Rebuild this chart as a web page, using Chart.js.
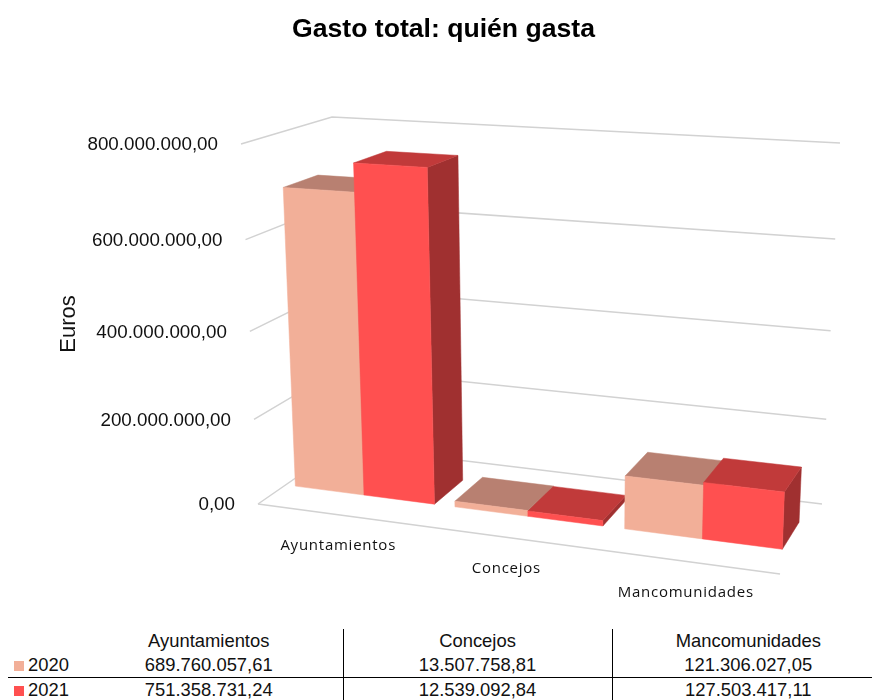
<!DOCTYPE html>
<html>
<head>
<meta charset="utf-8">
<script src="https://cdn.jsdelivr.net/npm/chart.js@4"></script>
<style>
html, body { margin: 0; padding: 0; background: #fff; overflow: hidden; }
#wrap { position: relative; width: 872px; height: 700px; overflow: hidden; }
canvas { position: absolute; left: 0; top: 0; }
table { position: absolute; left: 8px; top: 629px; width: 876px; border-collapse: collapse; table-layout: fixed;
  font: 18.4px "Liberation Sans", Arial, sans-serif; color: #111; }
td { padding: 0; text-align: center; white-space: nowrap; }
td.val { border-left: 1.4px solid #000; }
td.first { border-left: 0; }
tr.h td { height: 24px; }
tr.a td { height: 24px; }
tr.b td { height: 23px; border-top: 1.4px solid #000; }
td.key { text-align: left; }
td.key i { display: inline-block; width: 10px; height: 10px; margin: 0 4px 0 6px; }
</style>
</head>
<body>
<div id="wrap">
  <canvas id="myChart" width="872" height="625"></canvas>
  <table id="dataTable"></table>
</div>
<script>
var categories = ["Ayuntamientos", "Concejos", "Mancomunidades"];
var series_names = ["2020", "2021"];
var values_2020 = [689760057.61, 13507758.81, 121306027.05];
var values_2021 = [751358731.24, 12539092.84, 127503417.11];
var tick_step = 200000000;
var axis_max = 800000000;

var front_colors = ["#F2AF98", "#FF5050"];
var top_colors = ["#B88071", "#C13A3A"];
var side_colors = ["#A8806F", "#A03030"];

// corners of the 3d box on the picture
var floor_corners = [[258, 504], [780, 574], [822, 504], [342, 446]];
var roof_corners = [[241, 144], [793, 176], [840, 143], [332, 117]];
var bar_front = 0.31, bar_back = 0.7;
var height_bend = 0.085;

function quad_map(q) {
    var dx1 = q[1][0] - q[2][0], dx2 = q[3][0] - q[2][0], sx = q[0][0] - q[1][0] + q[2][0] - q[3][0];
    var dy1 = q[1][1] - q[2][1], dy2 = q[3][1] - q[2][1], sy = q[0][1] - q[1][1] + q[2][1] - q[3][1];
    var det = dx1 * dy2 - dx2 * dy1;
    var g = (sx * dy2 - dx2 * sy) / det, h = (dx1 * sy - sx * dy1) / det;
    var a = q[1][0] - q[0][0] + g * q[1][0], b = q[3][0] - q[0][0] + h * q[3][0];
    var d = q[1][1] - q[0][1] + g * q[1][1], e = q[3][1] - q[0][1] + h * q[3][1];
    return function (u, w) {
        var m = g * u + h * w + 1;
        return [(a * u + b * w + q[0][0]) / m, (d * u + e * w + q[0][1]) / m];
    };
}
var floor_at = quad_map(floor_corners);
var roof_at = quad_map(roof_corners);

function project(u, v, w) {
    var t = v / (1 + height_bend * (1 - v));
    var p = floor_at(u, w), r = roof_at(u, w);
    return [p[0] + (r[0] - p[0]) * t, p[1] + (r[1] - p[1]) * t];
}

function path(ctx, pts) {
    ctx.beginPath();
    pts.forEach(function (p, i) {
        if (i == 0) ctx.moveTo(p[0], p[1]); else ctx.lineTo(p[0], p[1]);
    });
}

function face(ctx, pts, color) {
    path(ctx, pts);
    ctx.closePath();
    ctx.fillStyle = color;
    ctx.fill();
    ctx.strokeStyle = color;
    ctx.lineWidth = 0.5;
    ctx.stroke();
}

function format_number(n) {
    return n.toFixed(2).replace(".", ",").replace(/\B(?=(\d{3})+(?!\d))/g, ".");
}

var box3d = {
    id: "box3d",
    beforeDatasetsDraw: function (chart) {
        var ctx = chart.ctx, y = chart.scales.y, x = chart.scales.x;
        ctx.save();
        ctx.strokeStyle = "#d2d2d2";
        ctx.lineWidth = 1.5;
        y.ticks.forEach(function (tick) {
            var v = (y.bottom - y.getPixelForValue(tick.value)) / (y.bottom - y.top);
            path(ctx, [project(0, v, 0), project(0, v, 1), project(1, v, 1)]);
            ctx.stroke();
        });
        path(ctx, [project(0, 0, 0), project(1, 0, 0)]);
        ctx.stroke();

        ctx.fillStyle = "#111";
        ctx.font = '18.8px "Liberation Sans"';
        ctx.textAlign = "right";
        ctx.textBaseline = "middle";
        y.ticks.forEach(function (tick) {
            var v = (y.bottom - y.getPixelForValue(tick.value)) / (y.bottom - y.top);
            var p = project(0, v, 0);
            ctx.fillText(tick.label, p[0] - 23, p[1] + 1);
        });

        ctx.font = '15px "Open Sans"';
        ctx.letterSpacing = "0.75px";
        ctx.textAlign = "center";
        x.ticks.forEach(function (tick, i) {
            var u = (x.getPixelForTick(i) - x.left) / (x.right - x.left);
            var p = project(u, 0, 0);
            ctx.fillText(tick.label, p[0], p[1] + 31);
        });
        ctx.letterSpacing = "0px";

        ctx.font = '22px "Liberation Sans"';
        ctx.translate(69, 324);
        ctx.rotate(-Math.PI / 2);
        ctx.fillText("Euros", 0, 0);
        ctx.restore();
    },
    beforeDatasetDraw: function () {
        return false;
    },
    afterDatasetsDraw: function (chart) {
        var ctx = chart.ctx, xs = chart.scales.x, ys = chart.scales.y;
        categories.forEach(function (name, c) {
            chart.data.datasets.forEach(function (ds, s) {
                var el = chart.getDatasetMeta(s).data[c];
                var u0 = (el.x - el.width / 2 - xs.left) / (xs.right - xs.left);
                var u1 = (el.x + el.width / 2 - xs.left) / (xs.right - xs.left);
                var v = (ys.bottom - el.y) / (ys.bottom - ys.top);
                var f = bar_front, b = bar_back;
                face(ctx, [project(u1, 0, f), project(u1, 0, b), project(u1, v, b), project(u1, v, f)], side_colors[s]);
                face(ctx, [project(u0, v, f), project(u1, v, f), project(u1, v, b), project(u0, v, b)], top_colors[s]);
                face(ctx, [project(u0, 0, f), project(u1, 0, f), project(u1, v, f), project(u0, v, f)], front_colors[s]);
            });
        });
    }
};

new Chart(document.getElementById("myChart"), {
    type: "bar",
    data: {
        labels: categories,
        datasets: [
            { label: series_names[0], data: values_2020, backgroundColor: front_colors[0] },
            { label: series_names[1], data: values_2021, backgroundColor: front_colors[1] }
        ]
    },
    options: {
        responsive: false,
        animation: false,
        events: [],
        layout: { padding: { left: 35, right: 20, bottom: 20 } },
        datasets: { bar: { categoryPercentage: 0.875, barPercentage: 1 } },
        scales: {
            x: { display: false },
            y: {
                display: false,
                min: 0,
                max: axis_max,
                ticks: {
                    stepSize: tick_step,
                    callback: function (value) { return format_number(value); }
                }
            }
        },
        plugins: {
            legend: { display: false },
            tooltip: { enabled: false },
            title: {
                display: true,
                text: "Gasto total: quién gasta",
                color: "#000",
                font: { family: "Liberation Sans", size: 26.6, weight: "bold" },
                padding: { top: 14, bottom: 10 }
            }
        }
    },
    plugins: [box3d]
});

// data table under the chart
var html = '<colgroup><col style="width:67px"><col style="width:268px"><col style="width:269px"><col style="width:272px"></colgroup>';
html += '<tr class="h"><td></td>' + categories.map(function (c, i) { return '<td class="val' + (i == 0 ? " first" : "") + '">' + c + "</td>"; }).join("") + "</tr>";
[values_2020, values_2021].forEach(function (vals, s) {
    html += '<tr class="' + (s == 0 ? "a" : "b") + '"><td class="key"><i style="background:' + front_colors[s] + '"></i>' + series_names[s] + "</td>";
    html += vals.map(function (v, i) { return '<td class="val' + (i == 0 ? " first" : "") + '">' + format_number(v) + "</td>"; }).join("") + "</tr>";
});
document.getElementById("dataTable").innerHTML = html;
</script>
</body>
</html>
